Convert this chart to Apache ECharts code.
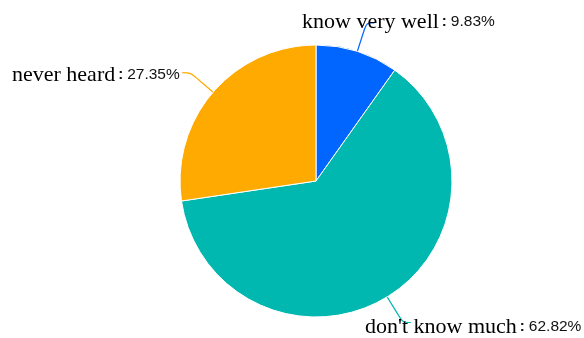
<!DOCTYPE html>
<html>
<head>
<meta charset="utf-8">
<script src="https://cdn.jsdelivr.net/npm/echarts@6/dist/echarts.min.js"></script>
<style>
  html, body { margin: 0; padding: 0; background: #fff; }
  #chart { width: 584px; height: 338px; }
</style>
</head>
<body>
<div id="chart"></div>
<script>
// Awareness survey: share of answers per category
const categories = ['know very well', "don't know much", 'never heard'];
const shares = [9.83, 62.82, 27.35];
const colors = ['#0066ff', '#00b8b0', '#ffaa00'];

// Where each outside label sits (left edge, vertical middle)
const labelSpots = [
  { x: 302, y: 22 },
  { x: 365, y: 327 },
  { x: 12, y: 75 }
];

const chart = echarts.init(document.getElementById('chart'), null, { renderer: 'canvas' });

chart.setOption({
  animation: false,
  backgroundColor: '#ffffff',
  color: colors,
  series: [{
    type: 'pie',
    center: [316, 181],
    radius: 136,
    startAngle: 90,
    clockwise: true,
    avoidLabelOverlap: false,
    data: categories.map((name, i) => ({ name: name, value: shares[i] })),
    itemStyle: { borderColor: '#ffffff', borderWidth: 1 },
    label: {
      show: true,
      position: 'outside',
      formatter: (p) => '{n|' + p.name + '}{c|:}{v|' + p.value.toFixed(2) + '%}',
      rich: {
        n: { fontFamily: 'Liberation Serif', fontSize: 22, color: '#000000' },
        c: { fontFamily: 'Liberation Sans', fontSize: 15, fontWeight: 'bold', color: '#111111', padding: [0, 4, 0, 3] },
        v: { fontFamily: 'Liberation Sans', fontSize: 15.5, color: '#111111' }
      }
    },
    labelLine: {
      show: true,
      length: 30,
      length2: 8,
      smooth: true,
      lineStyle: { width: 1.2 }
    },
    labelLayout: (params) => {
      const spot = labelSpots[params.dataIndex];
      return {
        x: spot.x,
        y: spot.y,
        align: 'left',
        verticalAlign: 'middle',
        labelLinePoints: params.labelLinePoints
      };
    }
  }]
});
</script>
</body>
</html>
